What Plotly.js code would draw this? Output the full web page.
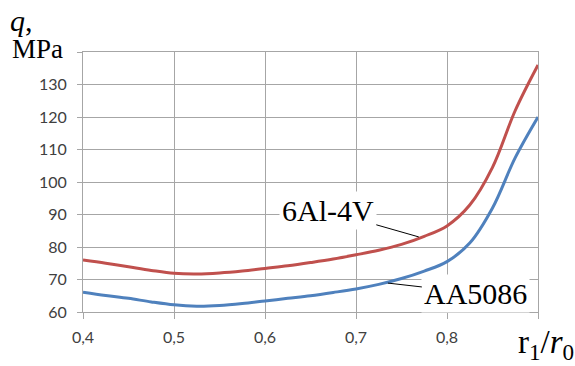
<!DOCTYPE html>
<html>
<head>
<meta charset="utf-8">
<script src="https://cdn.plot.ly/plotly-3.0.1.min.js"></script>
<style>html,body{margin:0;padding:0;background:#fff}#chart{width:575px;height:366px}</style>
</head>
<body>
<div id="chart"></div>
<script>
// r1/r0 ratio (abscissa) and q in MPa for each alloy
const ratio = [0.400, 0.425, 0.450, 0.475, 0.500, 0.525, 0.550, 0.575, 0.600, 0.625, 0.650,
               0.675, 0.700, 0.725, 0.750, 0.775, 0.800, 0.825, 0.850, 0.875, 0.900];
const qTi =   [76.0, 75.0, 73.9, 72.8, 71.9, 71.7, 72.0, 72.6, 73.4, 74.2, 75.2,
               76.3, 77.6, 79.0, 80.8, 83.3, 86.5, 92.9, 104.5, 122.0, 136.0];
const qAl =   [66.1, 65.1, 64.2, 63.1, 62.2, 61.8, 62.0, 62.6, 63.4, 64.2, 65.0,
               66.0, 67.1, 68.5, 70.3, 72.6, 75.5, 81.2, 92.0, 107.5, 120.0];
const xTicks = [0.4, 0.5, 0.6, 0.7, 0.8, 0.9];
const xTickText = ['0,4', '0,5', '0,6', '0,7', '0,8', ' '];
const yTicks = [60, 70, 80, 90, 100, 110, 120, 130, 140];
const yTickText = ['60', '70', '80', '90', '100', '110', '120', '130', ' '];
const labelTi = '6Al-4V';
const labelAl = 'AA5086';

const grid = '#a6a6a6';
const tickFont = {family: 'Lato, "Liberation Sans", sans-serif', size: 16, color: '#404040'};
const serif = '"Liberation Serif", "DejaVu Serif", serif';

const traces = [
  {x: ratio, y: qTi, mode: 'lines', line: {color: '#c0504d', width: 3, shape: 'spline', smoothing: 1}, name: labelTi},
  {x: ratio, y: qAl, mode: 'lines', line: {color: '#4f81bd', width: 3, shape: 'spline', smoothing: 1}, name: labelAl}
];

const layout = {
  width: 575, height: 366,
  margin: {l: 83, r: 37, t: 52, b: 54},
  paper_bgcolor: '#fff', plot_bgcolor: '#fff',
  showlegend: false,
  xaxis: {
    range: [0.4, 0.9], tickvals: xTicks, ticktext: xTickText,
    showgrid: true, gridcolor: grid, gridwidth: 1,
    showline: true, linecolor: grid, linewidth: 1, mirror: true,
    ticks: 'outside', ticklen: 6, tickcolor: grid, ticklabelstandoff: 5,
    tickfont: tickFont, zeroline: false
  },
  yaxis: {
    range: [60, 140], tickvals: yTicks, ticktext: yTickText,
    showgrid: true, gridcolor: grid, gridwidth: 1,
    showline: true, linecolor: grid, linewidth: 1, mirror: true,
    ticks: 'outside', ticklen: 5, tickcolor: grid, ticklabelstandoff: 7,
    tickfont: tickFont, zeroline: false
  },
  annotations: [
    {x: 0.769, y: 83.1, xref: 'x', yref: 'y', text: labelTi, showarrow: true, arrowhead: 0, arrowwidth: 1, arrowcolor: '#000',
     ax: -91, ay: -26, standoff: 0, font: {family: serif, size: 30, color: '#000'}, bgcolor: '#fff', borderpad: 2},
    {x: 0.735, y: 68.9, xref: 'x', yref: 'y', text: labelAl, showarrow: true, arrowhead: 0, arrowwidth: 1, arrowcolor: '#000',
     ax: 88, ay: 10, standoff: 0, font: {family: serif, size: 30, color: '#000'}, bgcolor: '#fff', borderpad: 2},
    {x: 0, y: 1, xref: 'paper', yref: 'paper', xanchor: 'left', yanchor: 'middle', xshift: -75, yshift: 32,
     text: '<i>q</i>,', showarrow: false, font: {family: serif, size: 30, color: '#000'}},
    {x: 0, y: 1, xref: 'paper', yref: 'paper', xanchor: 'left', yanchor: 'middle', xshift: -73, yshift: 3,
     text: 'MPa', showarrow: false, font: {family: serif, size: 27, color: '#000'}},
    {x: 1, y: 0, xref: 'paper', yref: 'paper', xanchor: 'center', yanchor: 'top', xshift: 8, yshift: -10,
     text: 'r<sub>1</sub>/<i>r</i><sub>0</sub>', showarrow: false, font: {family: serif, size: 33, color: '#000'}}
  ]
};

Plotly.newPlot('chart', traces, layout, {staticPlot: true, displayModeBar: false});
</script>
</body>
</html>
